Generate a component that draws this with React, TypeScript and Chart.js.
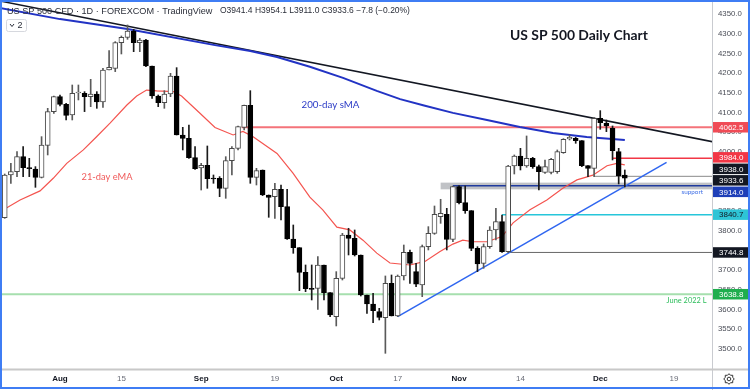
import { useEffect, useRef } from 'react';
import { Chart, registerables } from 'chart.js';

Chart.register(...registerables);

// ---- OHLC candles (one per trading day, left to right) ----
const opens = [
  3833.1, 3941.4, 3949.9, 3987.9, 3959.2, 3956.6, 3935.5, 4016.7, 4102.2, 4140.2,
  4120.8, 4093.7, 4149.5, 4148.7, 4140.2, 4147.0, 4126.7, 4207.9, 4212.1, 4277.3,
  4290.8, 4306.9, 4277.3, 4284.0, 4218.1, 4141.9, 4125.0, 4147.0, 4192.7, 4042.9,
  4034.5, 3985.4, 3959.2, 3966.0, 3932.9, 3932.9, 3907.6, 3977.8, 4009.1, 4062.4,
  4118.2, 3935.5, 3954.1, 3890.7, 3886.4, 3905.0, 3861.0, 3779.0, 3757.0, 3694.4,
  3653.8, 3653.8, 3713.0, 3642.8, 3581.9, 3679.2, 3789.1, 3780.7, 3738.4, 3636.9,
  3614.0, 3594.6, 3579.3, 3666.5, 3583.6, 3685.1, 3745.1, 3696.1, 3662.2, 3759.5,
  3793.4, 3835.7, 3841.6, 3778.1, 3911.8, 3871.2, 3850.9, 3755.3, 3717.2, 3759.5,
  3801.8, 3823.0, 3746.8, 3964.3, 3989.6, 3964.3, 3983.7, 3962.6, 3948.2, 3948.2,
  3949.9, 3998.1, 4032.8, 4034.5, 4028.5, 3965.1, 3958.3, 4085.2, 4072.5, 4059.9,
  4000.6, 3941.4,
];
const highs = [
  3943.9, 3971.0, 4000.6, 4013.3, 3983.7, 3962.6, 4038.7, 4110.6, 4141.9, 4144.4,
  4123.3, 4169.8, 4169.8, 4152.9, 4184.2, 4152.9, 4212.1, 4257.0, 4279.8, 4294.2,
  4322.1, 4311.1, 4288.3, 4285.7, 4218.1, 4144.4, 4155.4, 4199.4, 4213.8, 4062.4,
  4068.3, 4013.3, 3971.0, 4015.0, 3941.4, 3937.2, 3987.9, 4013.3, 4065.8, 4119.1,
  4155.4, 3958.3, 3954.1, 3890.7, 3920.3, 3916.0, 3905.0, 3814.5, 3757.0, 3713.0,
  3713.0, 3734.1, 3713.0, 3642.8, 3696.1, 3793.4, 3806.1, 3801.8, 3738.4, 3636.9,
  3641.1, 3603.0, 3685.1, 3687.6, 3687.6, 3763.7, 3751.1, 3717.2, 3763.7, 3810.3,
  3862.7, 3879.7, 3856.8, 3913.5, 3914.3, 3913.5, 3850.9, 3759.5, 3766.3, 3810.3,
  3856.8, 3839.9, 3966.0, 3992.2, 4009.1, 4040.4, 3986.2, 3966.8, 3979.5, 3983.7,
  4004.9, 4033.6, 4042.9, 4037.0, 4028.5, 3965.1, 4086.9, 4104.7, 4081.0, 4065.8,
  4009.1, 3954.1,
];
const lows = [
  3831.4, 3920.3, 3937.2, 3937.2, 3937.2, 3910.1, 3933.8, 3992.2, 4097.9, 4116.5,
  4081.0, 4081.0, 4131.8, 4102.2, 4114.8, 4110.6, 4113.1, 4207.9, 4203.7, 4248.5,
  4285.7, 4254.4, 4254.4, 4216.4, 4136.0, 4114.8, 4110.6, 4140.2, 4042.9, 4004.9,
  3983.7, 3955.8, 3903.3, 3907.6, 3920.3, 3886.4, 3882.2, 3941.4, 4004.9, 4055.6,
  3920.3, 3916.0, 3889.0, 3834.0, 3831.4, 3827.2, 3778.1, 3742.6, 3647.8, 3645.3,
  3624.2, 3600.5, 3624.2, 3581.9, 3558.2, 3674.9, 3738.4, 3735.8, 3634.3, 3590.3,
  3566.6, 3573.4, 3488.8, 3583.6, 3581.9, 3674.9, 3666.5, 3658.0, 3632.6, 3751.1,
  3790.8, 3818.7, 3751.1, 3772.2, 3867.8, 3844.1, 3749.4, 3696.1, 3704.5, 3755.3,
  3776.4, 3745.1, 3744.3, 3943.9, 3954.1, 3960.9, 3958.3, 3903.3, 3945.6, 3943.9,
  3945.6, 3996.4, 4030.2, 4021.8, 3962.6, 3937.2, 3937.2, 4057.3, 4051.4, 3979.5,
  3918.6, 3911.0,
];
const closes = [
  3941.4, 3949.9, 3987.9, 3960.0, 3957.5, 3935.5, 4017.5, 4102.2, 4140.2, 4120.8,
  4092.8, 4148.7, 4151.2, 4140.2, 4147.0, 4126.7, 4207.9, 4214.7, 4277.3, 4290.8,
  4306.9, 4277.3, 4284.0, 4218.1, 4141.9, 4125.0, 4147.0, 4192.7, 4042.9, 4034.5,
  3985.4, 3957.5, 3966.0, 3932.1, 3931.3, 3907.6, 3977.8, 4009.1, 4064.1, 4118.2,
  3935.5, 3952.4, 3890.7, 3884.7, 3905.0, 3861.0, 3779.0, 3757.0, 3694.4, 3652.9,
  3651.2, 3713.0, 3642.8, 3586.1, 3679.2, 3789.1, 3780.7, 3738.4, 3636.9, 3614.0,
  3597.1, 3580.2, 3666.5, 3583.6, 3685.1, 3745.1, 3717.2, 3664.0, 3759.5, 3793.4,
  3841.6, 3844.1, 3778.1, 3911.8, 3871.2, 3850.9, 3755.3, 3715.5, 3759.5, 3801.8,
  3823.0, 3746.8, 3964.3, 3989.6, 3964.3, 3983.7, 3962.6, 3949.9, 3962.6, 3981.2,
  4000.6, 4031.9, 4037.0, 4028.5, 3965.1, 3958.3, 4085.2, 4074.2, 4065.8, 4003.2,
  3938.9, 3933.6,
];

// ---- moving averages (candle index, value) ----
const emaIdx = [-1, 0, 2.5, 5.75, 7.9, 10.1, 12.8, 15, 17.15, 19.9, 21.5, 23.1, 24.75, 27.5, 28.8, 31.8, 34.25, 37.2, 38.8, 40.4, 44.35, 46.95, 49.7, 51.8, 54.1, 56.2, 58.35, 60.6, 62.75, 66, 68.45, 70.9, 73, 74.6, 76.3, 78.55, 81, 82.8, 85.55, 88.3, 90.9, 93.2, 95.8, 98.1, 99.7, 101];
const emaVal = [3850, 3855, 3878, 3901, 3933, 3971, 4005, 4039, 4073, 4119, 4142, 4157, 4155, 4153, 4142, 4098, 4062, 4043, 4052, 4039, 3996, 3946, 3885, 3853, 3809, 3802, 3776, 3743, 3718, 3713, 3722, 3747, 3766, 3776, 3772, 3772, 3785, 3820, 3853, 3878, 3908, 3929, 3941, 3965, 3971, 3967];
const smaIdx = [-1, 9, 20, 34.25, 40, 44.35, 49.7, 55.1, 60.6, 64.4, 68.45, 73, 78.55, 83.9, 89.3, 94.8, 101];
const smaVal = [4366, 4337, 4312, 4271, 4256, 4241, 4216, 4188, 4155, 4134, 4117, 4099, 4081, 4063, 4048, 4038, 4030];

// ---- drawn trend lines (two anchors each) ----
const downTrendIdx = [-1, 116];
const downTrendVal = [4383.7, 4023.6];
const upTrendIdx = [64, 107.8];
const upTrendVal = [3581.9, 3973.6];

// ---- horizontal levels ----
const levelVal = [4062.5, 3984.0, 3938.0, 3914.0, 3840.7, 3744.8, 3638.8];
const levelStart = [38.6, 99, 96, 73, 81, 82, -1];
const levelColor = ['#f4737a', '#f23645', '#8a8a8a', '#1f3a9e', '#26c6da', '#666666', '#a6dfae'];
const levelWidth = [2, 1.5, 1, 1.5, 1.5, 1, 2];
const bandStart = 71;
const bandRange = [3905, 3922];

// ---- price axis tags ----
const tagVal = [4062.5, 3984.0, 3938.0, 3933.6, 3914.0, 3840.7, 3744.8, 3638.8];
const tagBg = ['#f04b56', '#f23645', '#131722', '#131722', '#1e3fb8', '#2ec4d6', '#131722', '#1fae4e'];
const tagFg = ['#ffffff', '#ffffff', '#ffffff', '#ffffff', '#ffffff', '#131722', '#ffffff', '#ffffff'];

// ---- axis ticks ----
const yTicks = [3500, 3550, 3600, 3650, 3700, 3750, 3800, 3850, 3900, 3950, 4000, 4050, 4100, 4150, 4200, 4250, 4300, 4350];
const xTickIdx = [9, 19, 32, 44, 54, 64, 74, 84, 97, 109];
const xTickLabels = ['Aug', '15', 'Sep', '19', 'Oct', '17', 'Nov', '14', 'Dec', '19'];
const xTickIsMonth = [true, false, true, false, true, false, true, false, true, false];

const X_MIN = -0.77;
const X_MAX = 115.2;
const Y_MIN = 3449;
const Y_MAX = 4385.5;

function fitText(ctx: CanvasRenderingContext2D, text: string, x: number, y: number, width: number, weight: string, family: string, color: string) {
  ctx.font = `${weight} 20px ${family}`;
  const w = ctx.measureText(text).width;
  const size = (20 * width) / w;
  ctx.font = `${weight} ${size.toFixed(2)}px ${family}`;
  ctx.fillStyle = color;
  ctx.textAlign = 'left';
  ctx.textBaseline = 'middle';
  ctx.fillText(text, x, y);
}

const decor = {
  id: 'decor',
  beforeDraw(chart: any) {
    const { ctx } = chart;
    ctx.save();
    ctx.fillStyle = '#ffffff';
    ctx.fillRect(0, 0, chart.width, chart.height);
    ctx.restore();
  },
  beforeDatasetsDraw(chart: any) {
    const { ctx, chartArea: a, scales } = chart;
    const x = scales.x, y = scales.y;
    ctx.save();
    ctx.beginPath();
    ctx.rect(a.left, a.top, a.right - a.left, a.bottom - a.top);
    ctx.clip();
    const x0 = x.getPixelForValue(bandStart);
    const y0 = y.getPixelForValue(bandRange[1]);
    const y1 = y.getPixelForValue(bandRange[0]);
    ctx.fillStyle = 'rgba(150,153,160,0.6)';
    ctx.fillRect(x0, y0, a.right - x0, y1 - y0);
    ctx.restore();
  },
  afterDraw(chart: any) {
    const { ctx, chartArea: a, scales } = chart;
    const y = scales.y;
    ctx.save();

    // separators
    ctx.strokeStyle = '#c9cbd0';
    ctx.lineWidth = 1;
    ctx.beginPath();
    ctx.moveTo(a.right + 0.5, 0);
    ctx.lineTo(a.right + 0.5, chart.height);
    ctx.stroke();
    ctx.lineWidth = 2;
    ctx.strokeStyle = '#c8c8c8';
    ctx.beginPath();
    ctx.moveTo(0, a.bottom + 0.5);
    ctx.lineTo(chart.width, a.bottom + 0.5);
    ctx.stroke();

    // price tags with de-overlap
    const H = 11.5;
    const items = tagVal.map((v, i) => ({ i, py: y.getPixelForValue(v), y: 0 }));
    items.sort((p, q) => p.py - q.py);
    let groups = items.map((it) => ({ items: [it], c: it.py }));
    let merged = true;
    while (merged) {
      merged = false;
      for (let k = 0; k < groups.length - 1; k++) {
        const g1 = groups[k], g2 = groups[k + 1];
        const b1 = g1.c + (g1.items.length * H) / 2;
        const t2 = g2.c - (g2.items.length * H) / 2;
        if (b1 > t2) {
          const all = g1.items.concat(g2.items);
          const c = all.reduce((s, it) => s + it.py, 0) / all.length;
          groups.splice(k, 2, { items: all, c });
          merged = true;
          break;
        }
      }
    }
    groups.forEach((g) => {
      g.items.forEach((it, k) => {
        it.y = g.c - ((g.items.length - 1) * H) / 2 + k * H;
      });
    });
    ctx.font = '8px "Liberation Sans"';
    ctx.textBaseline = 'middle';
    ctx.textAlign = 'left';
    items.forEach((it) => {
      ctx.fillStyle = tagBg[it.i];
      ctx.fillRect(a.right + 1, it.y - 5.25, chart.width - a.right - 1, 10.5);
      ctx.fillStyle = tagFg[it.i];
      ctx.fillText(tagVal[it.i].toFixed(1), a.right + 7, it.y + 0.5);
    });

    // header
    fitText(ctx, 'US SP 500 CFD · 1D · FOREXCOM · TradingView', 7, 11, 206, 'normal', '"Liberation Sans"', '#2a2e39');
    fitText(ctx, 'O3941.4 H3954.1 L3911.0 C3933.6 −7.8 (−0.20%)', 220, 11, 190, 'normal', '"Liberation Sans"', '#2a2e39');

    // collapse box
    ctx.strokeStyle = '#d6d8de';
    ctx.lineWidth = 1;
    ctx.fillStyle = '#ffffff';
    ctx.beginPath();
    ctx.roundRect(6.5, 19.5, 20, 12, 2);
    ctx.fill();
    ctx.stroke();
    ctx.strokeStyle = '#2a2e39';
    ctx.beginPath();
    ctx.moveTo(10, 24);
    ctx.lineTo(12, 26.5);
    ctx.lineTo(14, 24);
    ctx.stroke();
    ctx.fillStyle = '#2a2e39';
    ctx.font = '9px "Liberation Sans"';
    ctx.textBaseline = 'middle';
    ctx.fillText('2', 17.5, 26);

    // annotations
    fitText(ctx, 'US SP 500 Daily Chart', 510, 36, 138, 'bold', 'Lato', '#131722');
    fitText(ctx, '200-day sMA', 301.5, 104.5, 58, 'normal', 'Lato', '#2b3bc6');
    fitText(ctx, '21-day eMA', 81.5, 177, 51, 'normal', 'Lato', '#f05a5a');
    fitText(ctx, 'support', 681.5, 192, 21.5, 'normal', 'Lato', '#3f6fe6');
    fitText(ctx, 'June 2022 L', 666.5, 301, 40, 'normal', 'Lato', '#2cbd5a');

    // gear icon
    const gx = 729, gy = 379;
    ctx.strokeStyle = '#333';
    ctx.lineWidth = 1;
    ctx.beginPath();
    for (let k = 0; k < 16; k++) {
      const ang = (k / 16) * Math.PI * 2;
      const r = k % 2 === 0 ? 5.3 : 4.0;
      const px = gx + Math.cos(ang) * r, py = gy + Math.sin(ang) * r;
      if (k === 0) ctx.moveTo(px, py); else ctx.lineTo(px, py);
    }
    ctx.closePath();
    ctx.stroke();
    ctx.beginPath();
    ctx.arc(gx, gy, 1.8, 0, Math.PI * 2);
    ctx.stroke();

    // frame
    ctx.strokeStyle = '#3f7df4';
    ctx.lineWidth = 2;
    ctx.strokeRect(1, 1, chart.width - 2, chart.height - 3);
    ctx.restore();
  },
};

export default function App() {
  const ref = useRef<HTMLCanvasElement>(null);
  useEffect(() => {
    document.body.style.margin = '0';
    const canvas = ref.current!;
    const up = closes.map((c, i) => c >= opens[i]);
    const idx = opens.map((_, i) => i);
    const bodyData = idx.map((i) => ({ x: i, y: [opens[i], closes[i]] }));
    const wickData = idx.map((i) => ({ x: i, y: [lows[i], highs[i]] }));
    const pts = (xs: number[], ys: number[]) => xs.map((v, i) => ({ x: v, y: ys[i] }));
    const line = (data: any[], color: string, width: number, order: number) => ({
      type: 'line' as const,
      data,
      borderColor: color,
      borderWidth: width,
      pointRadius: 0,
      pointHoverRadius: 0,
      fill: false,
      tension: 0,
      order,
    });
    const levelSets = levelVal.map((v, k) =>
      line([{ x: levelStart[k], y: v }, { x: X_MAX + 1, y: v }], levelColor[k], levelWidth[k], 6)
    );
    const chart = new Chart(canvas, {
      type: 'bar',
      data: {
        datasets: [
          {
            type: 'bar',
            data: bodyData as any,
            backgroundColor: up.map((u) => (u ? '#ffffff' : '#000000')),
            borderColor: up.map((u) => (u ? '#4a4a4a' : '#000000')),
            borderWidth: 1,
            borderSkipped: false,
            barThickness: 5,
            grouped: false,
            minBarLength: 1,
            order: 0,
          } as any,
          {
            type: 'bar',
            data: wickData as any,
            backgroundColor: up.map((u) => (u ? '#5a5a5a' : '#1a1a1a')),
            borderWidth: 0,
            barThickness: 1,
            grouped: false,
            order: 1,
          } as any,
          line(pts(emaIdx, emaVal), '#f4544f', 1.2, 3) as any,
          line(pts(smaIdx, smaVal), '#2233c4', 2, 3) as any,
          line(pts(downTrendIdx, downTrendVal), '#131722', 1.5, 4) as any,
          line(pts(upTrendIdx, upTrendVal), '#2f66f0', 1.5, 4) as any,
          ...(levelSets as any[]),
        ],
      },
      options: {
        responsive: false,
        animation: false,
        devicePixelRatio: 1,
        layout: { padding: 0 },
        events: [],
        plugins: { legend: { display: false }, tooltip: { enabled: false } },
        scales: {
          x: {
            type: 'linear',
            min: X_MIN,
            max: X_MAX,
            offset: false,
            grid: { display: false, drawTicks: false },
            border: { display: false },
            afterBuildTicks: (s: any) => {
              s.ticks = xTickIdx.map((v) => ({ value: v }));
            },
            afterFit: (s: any) => {
              s.height = 21;
              s.paddingLeft = 0;
              s.paddingRight = 0;
            },
            ticks: {
              autoSkip: false,
              maxRotation: 0,
              minRotation: 0,
              padding: 5,
              callback: (_v: any, i: number) => xTickLabels[i],
              color: (c: any) => (xTickIsMonth[c.index] ? '#131722' : '#6a6d78'),
              font: (c: any) => ({ family: '"Liberation Sans"', size: 8, weight: xTickIsMonth[c.index] ? 'bold' : 'normal' }),
            },
          } as any,
          y: {
            type: 'linear',
            position: 'right',
            min: Y_MIN,
            max: Y_MAX,
            grid: { display: false, drawTicks: false },
            border: { display: false },
            afterBuildTicks: (s: any) => {
              s.ticks = yTicks.map((v) => ({ value: v }));
            },
            afterFit: (s: any) => {
              s.width = 38;
              s.paddingTop = 0;
              s.paddingBottom = 0;
            },
            ticks: {
              autoSkip: false,
              padding: 6,
              callback: (v: any) => Number(v).toFixed(1),
              color: '#4a4d57',
              font: { family: '"Liberation Sans"', size: 7.8 },
            },
          } as any,
        },
      },
      plugins: [decor as any],
    });
    return () => chart.destroy();
  }, []);
  return (
    <div style={{ position: 'absolute', left: 0, top: 0, width: 750, height: 390, background: '#fff' }}>
      <canvas ref={ref} width={750} height={390} style={{ display: 'block', width: 750, height: 390 }} />
    </div>
  );
}
